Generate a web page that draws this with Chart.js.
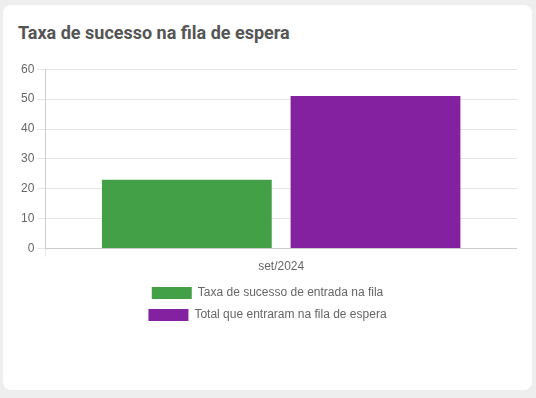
<!DOCTYPE html>
<html>
<head>
<meta charset="utf-8">
<script src="https://cdn.jsdelivr.net/npm/chart.js@4"></script>
<style>
  body { margin: 0; background: #eeeeee; width: 536px; height: 398px; overflow: hidden; }
  .card { position: absolute; left: 3px; top: 5px; width: 529px; height: 385px; background: #fff; border-radius: 8px; }
  .card h3 { position: absolute; left: 15px; top: 17px; margin: 0; font: bold 18px Roboto, sans-serif; color: #555; }
  .box { position: absolute; left: 15px; top: 54px; width: 499px; height: 272px; }
</style>
</head>
<body>
<div class="card">
  <h3>Taxa de sucesso na fila de espera</h3>
  <div class="box"><canvas id="chart"></canvas></div>
</div>
<script>
const categories = ['set/2024'];
const seriesNames = ['Taxa de sucesso de entrada na fila', 'Total que entraram na fila de espera'];
const taxaSucesso = [23];
const totalEntraram = [51];
const colors = ['#43a047', '#8421a0'];

new Chart(document.getElementById('chart'), {
  type: 'bar',
  data: {
    labels: categories,
    datasets: [
      { label: seriesNames[0], data: taxaSucesso, backgroundColor: colors[0] },
      { label: seriesNames[1], data: totalEntraram, backgroundColor: colors[1] }
    ]
  },
  options: {
    responsive: true,
    maintainAspectRatio: false,
    animation: false,
    plugins: {
      legend: { position: 'bottom' }
    },
    scales: {
      y: { min: 0, max: 60, ticks: { stepSize: 10 } }
    }
  }
});
</script>
</body>
</html>
